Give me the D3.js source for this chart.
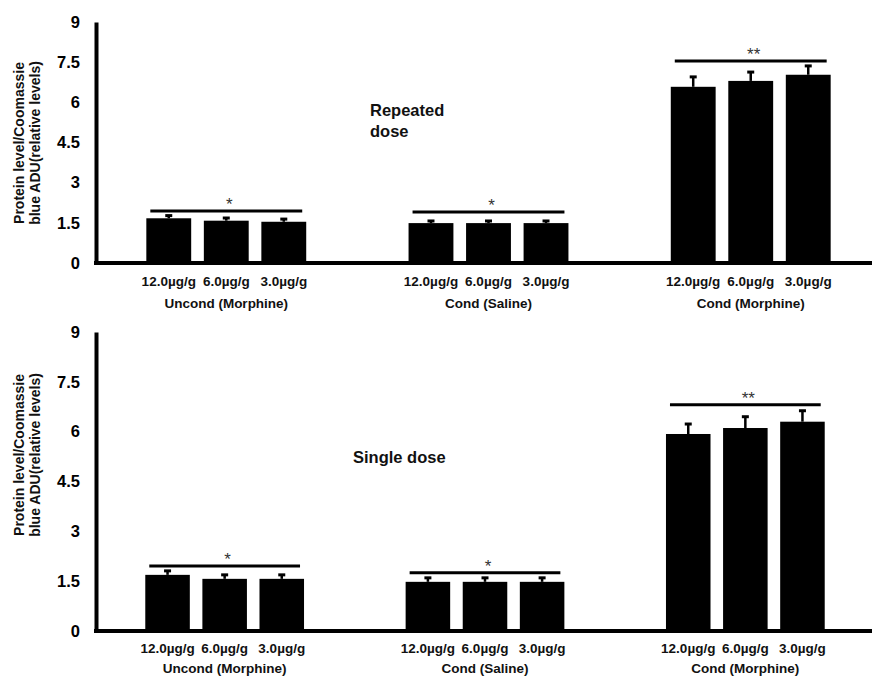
<!DOCTYPE html>
<html>
<head>
<meta charset="utf-8">
<script src="https://cdn.jsdelivr.net/npm/d3@7/dist/d3.min.js"></script>
<style>
  html, body { margin: 0; padding: 0; background: #fff; }
  svg { display: block; font-family: "Liberation Sans", Arial, sans-serif; }
</style>
</head>
<body>
<svg id="chart" width="872" height="679"></svg>
<script>
// ---------- DATA ----------
const groups = ["Uncond (Morphine)", "Cond (Saline)", "Cond (Morphine)"];
const doses = ["12.0µg/g", "6.0µg/g", "3.0µg/g"];
const yTicks = [0, 1.5, 3, 4.5, 6, 7.5, 9];
const yTitle = ["Protein level/Coomassie", "blue ADU(relative levels)"];

// Repeated dose (top panel)
const repeatedValues = [[1.67, 1.58, 1.54], [1.49, 1.49, 1.49], [6.58, 6.80, 7.03]];
const repeatedErrors = [[0.10, 0.10, 0.10], [0.08, 0.08, 0.08], [0.37, 0.33, 0.33]];
const repeatedSigY = [1.94, 1.90, 7.54];
const repeatedSigLabel = ["*", "*", "**"];

// Single dose (bottom panel)
const singleValues = [[1.69, 1.57, 1.57], [1.48, 1.48, 1.48], [5.93, 6.11, 6.30]];
const singleErrors = [[0.12, 0.12, 0.12], [0.12, 0.12, 0.12], [0.30, 0.34, 0.33]];
const singleSigY = [1.96, 1.75, 6.81];
const singleSigLabel = ["*", "*", "**"];

// ---------- LAYOUT ----------
const svg = d3.select("#chart");
const axisX = 96;

const panels = [
  { title: ["Repeated", "dose"], titleX: 370, titleY: 116,
    values: repeatedValues, errors: repeatedErrors, sigY: repeatedSigY, sigLabel: repeatedSigLabel,
    yTop: 22, yBase: 263, xRange: [140, 837], tickDy: 23, groupDy: 45, yTitleCY: 143 },
  { title: ["Single dose"], titleX: 353, titleY: 463,
    values: singleValues, errors: singleErrors, sigY: singleSigY, sigLabel: singleSigLabel,
    yTop: 332, yBase: 631, xRange: [139, 831], tickDy: 22, groupDy: 42, yTitleCY: 455 }
];

panels.forEach(p => {
  const g = svg.append("g");
  const y = d3.scaleLinear().domain([0, 9]).range([p.yBase, p.yTop]);
  const outer = d3.scaleBand().domain(groups).range(p.xRange).paddingInner(0.342).paddingOuter(0);
  const inner = d3.scaleBand().domain(doses).range([0, outer.bandwidth()]).paddingInner(0.22).paddingOuter(0.11);

  // y axis
  const yAxis = d3.axisLeft(y).tickValues(yTicks).tickSize(0).tickPadding(16)
    .tickFormat(d => String(d));
  const ya = g.append("g").attr("transform", `translate(${axisX},0)`).call(yAxis);
  ya.select(".domain").attr("stroke", "#000").attr("stroke-width", 4);
  ya.selectAll("text").attr("font-size", 16.5).attr("font-weight", "bold").attr("fill", "#000")
    .attr("font-family", "'Liberation Sans', Arial, sans-serif");

  // y title
  const yt = g.append("text")
    .attr("transform", `translate(0,${p.yTitleCY}) rotate(-90)`)
    .attr("text-anchor", "middle").attr("font-size", 14).attr("font-weight", "bold").attr("fill", "#111");
  yt.append("tspan").attr("x", 0).attr("y", 24).text(yTitle[0]);
  yt.append("tspan").attr("x", 0).attr("y", 40).text(yTitle[1]);

  // bars
  groups.forEach((grp, gi) => {
    const gx = outer(grp);
    const gg = g.append("g").attr("transform", `translate(${gx},0)`);
    const rows = doses.map((d, i) => ({ dose: d, v: p.values[gi][i], e: p.errors[gi][i] }));

    gg.selectAll("rect.bar").data(rows).join("rect").attr("class", "bar")
      .attr("x", d => inner(d.dose)).attr("width", inner.bandwidth())
      .attr("y", d => y(d.v)).attr("height", d => y(0) - y(d.v)).attr("fill", "#000");

    // error bars (upper only)
    gg.selectAll("line.err").data(rows).join("line").attr("class", "err")
      .attr("x1", d => inner(d.dose) + inner.bandwidth() / 2)
      .attr("x2", d => inner(d.dose) + inner.bandwidth() / 2)
      .attr("y1", d => y(d.v)).attr("y2", d => y(d.v + d.e))
      .attr("stroke", "#000").attr("stroke-width", 2.5);
    gg.selectAll("line.cap").data(rows).join("line").attr("class", "cap")
      .attr("x1", d => inner(d.dose) + inner.bandwidth() / 2 - 3.5)
      .attr("x2", d => inner(d.dose) + inner.bandwidth() / 2 + 3.5)
      .attr("y1", d => y(d.v + d.e)).attr("y2", d => y(d.v + d.e))
      .attr("stroke", "#000").attr("stroke-width", 3);

    // significance line
    const sy = y(p.sigY[gi]);
    gg.append("line")
      .attr("x1", inner(doses[0]) + 4).attr("x2", inner(doses[2]) + inner.bandwidth() - 4)
      .attr("y1", sy).attr("y2", sy).attr("stroke", "#000").attr("stroke-width", 3);
    gg.append("text").attr("x", outer.bandwidth() / 2 + 3).attr("y", sy - 1)
      .attr("text-anchor", "middle").attr("font-size", 17).attr("fill", "#333").text(p.sigLabel[gi]);

    // x dose labels
    const xAxis = d3.axisBottom(inner).tickSize(0).tickPadding(0);
    const xa = gg.append("g").attr("transform", `translate(0,${p.yBase + p.tickDy})`).call(xAxis);
    xa.select(".domain").remove();
    xa.selectAll("text").attr("dy", 0).attr("y", 0).attr("font-size", 13.5).attr("font-weight", "bold")
      .attr("fill", "#111").attr("font-family", "'Liberation Sans', Arial, sans-serif");

    // group label
    gg.append("text").attr("x", outer.bandwidth() / 2).attr("y", p.yBase + p.groupDy)
      .attr("text-anchor", "middle").attr("font-size", 13.5).attr("font-weight", "bold")
      .attr("fill", "#111").text(grp);
  });

  // baseline
  g.append("line").attr("x1", axisX - 2).attr("x2", 872).attr("y1", y(0)).attr("y2", y(0))
    .attr("stroke", "#000").attr("stroke-width", 4);

  // panel title
  const t = g.append("text").attr("font-size", 16.5).attr("font-weight", "bold").attr("fill", "#111");
  p.title.forEach((s, i) => t.append("tspan").attr("x", p.titleX).attr("y", p.titleY + i * 21).text(s));
});
</script>
</body>
</html>
